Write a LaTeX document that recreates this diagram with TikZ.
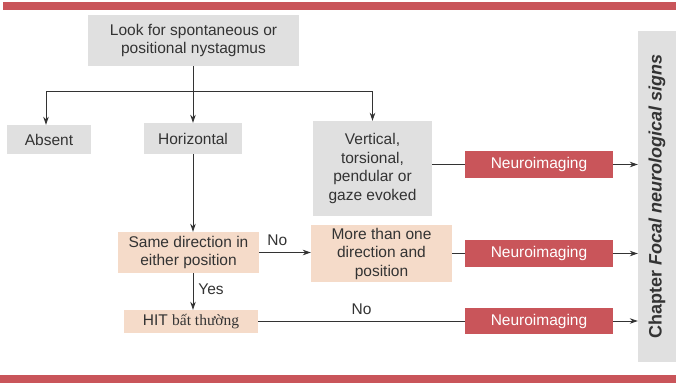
\documentclass[tikz,border=0pt]{standalone}
\usepackage{fontspec}
\setmainfont{Liberation Sans}
\newfontfamily\viet{Liberation Serif}
\usetikzlibrary{arrows.meta,positioning,calc}
\definecolor{boxgray}{HTML}{E0E0E0}
\definecolor{peach}{HTML}{F5DBC9}
\definecolor{brick}{HTML}{C9555A}
\definecolor{ink}{HTML}{333333}
\begin{document}
\begin{tikzpicture}[x=1pt,y=-1pt,
  every node/.style={font=\fontsize{15.5}{18.5}\selectfont, text=ink, inner sep=0pt, align=center},
  graybox/.style={fill=boxgray, minimum width=#1},
  peachbox/.style={fill=peach, minimum width=#1},
  redbox/.style={fill=brick, text=white, minimum width=148pt, minimum height=27pt},
  conn/.style={draw=ink, line width=0.9pt},
  arr/.style={conn, -{Stealth[length=8pt,width=5.5pt]}},
  lbl/.style={font=\fontsize{15.5}{17}\selectfont}
]
\useasboundingbox (0,0) rectangle (676,383);

% banner rules
\fill[brick] (3,2) rectangle (676,9.5);
\fill[brick] (0,375) rectangle (676,383);

% boxes
\node[graybox=211pt, minimum height=51pt] (top) at (193.5,40.5) {Look for spontaneous or\\positional nystagmus};
\node[graybox=84pt, minimum height=29pt] (absent) at (49,139.5) {Absent};
\node[graybox=98pt, minimum height=31pt] (horiz) at (193,138.5) {Horizontal};
\node[graybox=119pt, minimum height=95pt] (vert) at (372.5,168.5) {Vertical,\\torsional,\\pendular or\\gaze evoked};
\node[redbox] (neuroA) at (539,164.5) {Neuroimaging};
\node[fill=boxgray, minimum width=38pt, minimum height=331pt] (chap) at (657,196.5) {};
\node[rotate=90, font=\fontsize{18}{20}\selectfont\bfseries] (chaptext) at (chap.center) {Chapter \textit{Focal neurological signs}};
\node[peachbox=141pt, minimum height=41pt] (same) at (188.5,252.5) {Same direction in\\either position};
\node[peachbox=141pt, minimum height=57pt] (more) at (381.5,253.5) {More than one\\direction and\\position};
\node[redbox] (neuroB) at (539,253.5) {Neuroimaging};
\node[peachbox=134pt, minimum height=23pt] (hit) at (191,321.5) {HIT {\viet bất thường}};
\node[redbox, minimum height=26pt] (neuroC) at (539,321) {Neuroimaging};

% branching from the first question
\coordinate (split) at (193,91);
\draw[conn] (top.south -| split) -- (split);
\draw[arr] (split) -- (horiz.north -| split);
\draw[arr] (split) -- (46,91) coordinate (leftend) -- (leftend |- absent.north);
\draw[arr] (split) -| (vert.north);

% vertical / torsional branch
\draw[conn] (vert.east |- neuroA.west) -- (neuroA.west);
\draw[arr] (neuroA.east) -- (chap.west |- neuroA.east);

% horizontal branch
\draw[arr] (horiz.south) -- (horiz.south |- same.north);
\draw[arr] (same.east) -- node[lbl, above=6pt, pos=0.35] {No} (more.west |- same.east);
\draw[conn] (more.east |- neuroB.west) -- (neuroB.west);
\draw[arr] (neuroB.east) -- (chap.west |- neuroB.east);
\draw[arr] (same.south -| horiz.south) -- node[lbl, right=5pt, pos=0.45] {Yes} (hit.north -| horiz.south);
\draw[conn] (hit.east) -- node[lbl, above=6pt, pos=0.5] {No} (neuroC.west |- hit.east);
\draw[arr] (neuroC.east) -- (chap.west |- neuroC.east);
\end{tikzpicture}
\end{document}
